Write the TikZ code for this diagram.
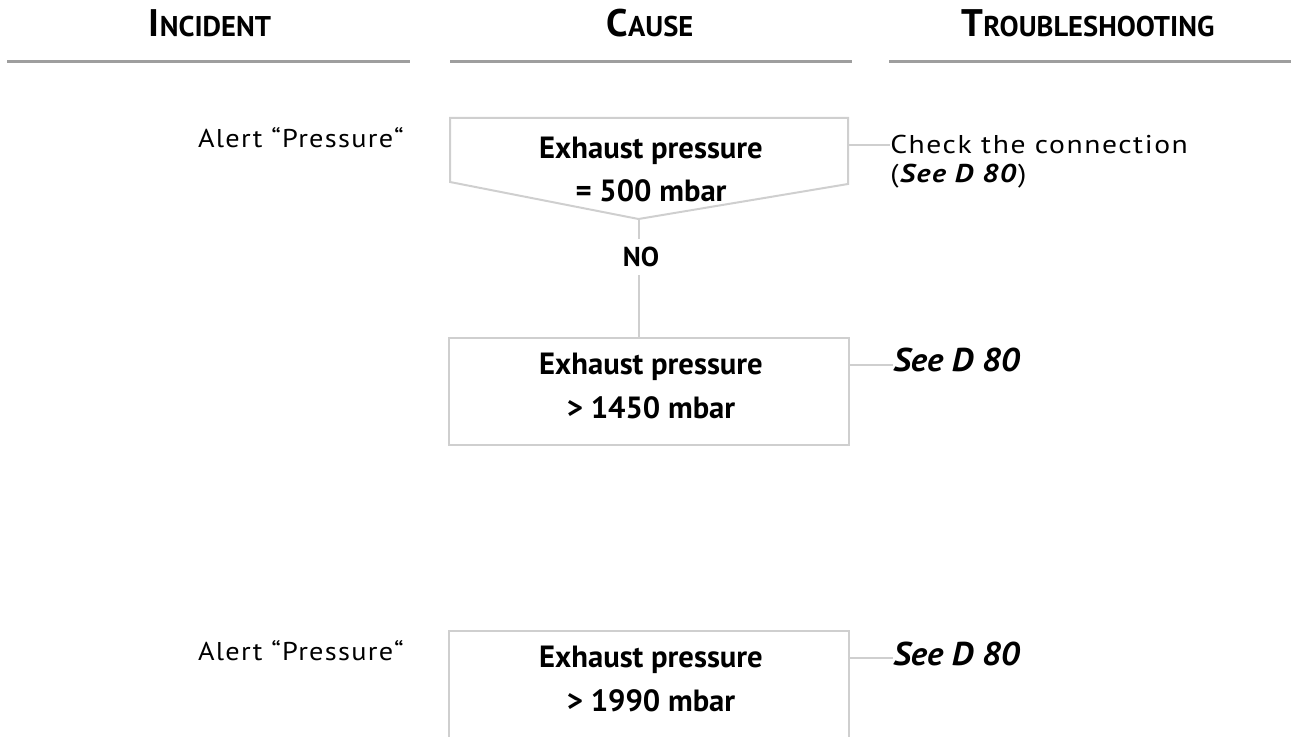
\documentclass[tikz,border=0pt]{standalone}
\usepackage{fontspec}
\setmainfont{PT Sans}
\newfontfamily\loosefont[FakeStretch=1.15,LetterSpace=6]{PT Sans}
\newfontfamily\alertfont[FakeStretch=1.1,LetterSpace=5]{PT Sans}
\newfontfamily\seefont[FakeStretch=1.05]{PT Sans}
\definecolor{hdrline}{HTML}{9E9E9E}
\definecolor{boxline}{HTML}{CFCFCF}
\newcommand{\hdrsc}[2]{{\fontsize{28.8}{30}\selectfont #1}{\fontsize{21.4}{24}\selectfont #2}}
\begin{document}
\begin{tikzpicture}[x=0.75pt,y=-0.75pt,
  hdr/.style={anchor=base, inner sep=0pt, font=\bfseries},
  hdrrule/.style={draw=hdrline, line width=2.25pt},
  boxframe/.style={draw=boxline, line width=1.5pt},
  link/.style={draw=boxline, line width=1.5pt},
  boxtext/.style={align=center, inner sep=0pt, font=\bfseries\fontsize{23}{32.6}\selectfont},
  plain/.style={inner sep=0pt, font=\loosefont\fontsize{19.3}{21.75}\selectfont},
  alerttext/.style={inner sep=0pt, font=\alertfont\fontsize{19.3}{21.75}\selectfont},
  seeref/.style={inner sep=0pt, font=\seefont\bfseries\itshape\fontsize{24.7}{28}\selectfont},
  nolabel/.style={inner xsep=0pt, inner ysep=6pt, font=\bfseries\fontsize{20.5}{21}\selectfont},
]
\useasboundingbox (0,0) rectangle (1291,737);

% headers
\node[hdr] (hinc) at (210,37) {\hdrsc{I}{NCIDENT}};
\node[hdr] (hcau) at (650,37) {\hdrsc{C}{AUSE}};
\node[hdr] (htro) at (1088,37) {\hdrsc{T}{ROUBLESHOOTING}};
\coordinate (r1a) at (7,61.7);   \coordinate (r1b) at (410,61.7);
\coordinate (r2a) at (450,61.7); \coordinate (r2b) at (852,61.7);
\coordinate (r3a) at (889,61.7); \coordinate (r3b) at (1291,61.7);
\draw[hdrrule] (r1a) -- (r1b);
\draw[hdrrule] (r2a) -- (r2b);
\draw[hdrrule] (r3a) -- (r3b);

% first incident
\node[alerttext, anchor=base east] (al1) at (404,148) {Alert “Pressure“};
\coordinate (b1nw) at (450,118);
\coordinate (b1ne) at (848,118);
\coordinate (b1se) at (848,184);
\coordinate (b1tip) at (638.5,219);
\coordinate (b1sw) at (450,182);
\draw[boxframe] (b1nw) -- (b1ne) -- (b1se) -- (b1tip) -- (b1sw) -- cycle;
\node[boxtext] (t1) at (651,169.5) {Exhaust pressure\\= 500 mbar};
\node[plain, anchor=north west, align=left] (chk) at (890,135) {Check the connection\\(\textbf{\textit{See D 80}})};
\coordinate (c1) at (848,145);
\draw[link] (c1) -- (c1 -| chk.west);

\node[nolabel] (no) at (641,257) {NO};

\node[boxframe, minimum width=300pt, minimum height=80.25pt, inner sep=0pt] (b2) at (649,391.5) {};
\node[boxtext] (t2) at (651,386) {Exhaust pressure\\> 1450 mbar};
\draw[link] (b1tip) -- (b1tip |- no.north);
\draw[link] (b1tip |- no.south) -- (b1tip |- b2.north);
\node[seeref, anchor=base west] (s2) at (893,372) {See D 80};
\coordinate (c2) at (849,365);
\draw[link] (c2) -- (c2 -| s2.west);

% second incident
\node[alerttext, anchor=base east] (al2) at (404,660) {Alert “Pressure“};
\node[boxframe, minimum width=300pt, minimum height=80.25pt, inner sep=0pt] (b3) at (649,684.5) {};
\node[boxtext] (t3) at (651,679) {Exhaust pressure\\> 1990 mbar};
\node[seeref, anchor=base west] (s3) at (893,665) {See D 80};
\coordinate (c3) at (849,658);
\draw[link] (c3) -- (c3 -| s3.west);
\end{tikzpicture}
\end{document}
